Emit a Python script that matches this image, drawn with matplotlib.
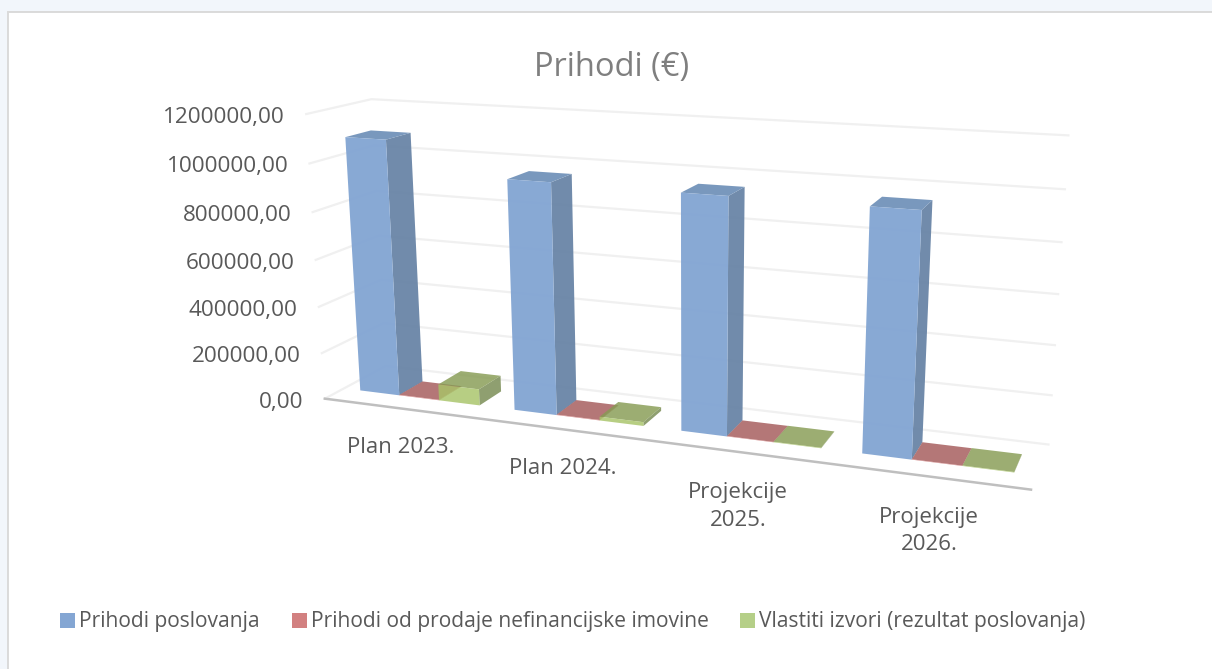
import numpy as np
import matplotlib
matplotlib.use("Agg")
import matplotlib.pyplot as plt
from matplotlib.patches import Polygon, Rectangle

categories = ["Plan 2023.", "Plan 2024.", "Projekcije\n2025.", "Projekcije\n2026."]
series_names = ["Prihodi poslovanja", "Prihodi od prodaje nefinancijske imovine",
                "Vlastiti izvori (rezultat poslovanja)"]
prihodi_poslovanja = [1090000, 962000, 957000, 955000]
prihodi_nefinancijske = [2000, 2000, 1500, 1500]
vlastiti_izvori = [70000, 16000, 2000, 2000]
ticks = [0, 200000, 400000, 600000, 800000, 1000000, 1200000]
tick_labels = ["0,00", "200000,00", "400000,00", "600000,00", "800000,00", "1000000,00", "1200000,00"]
title = "Prihodi (€)"

FONT = "Open Sans"
VMAX = 1200000.0
GAP = 0.11
BAR_W = 0.26
W0, W1 = 0.30, 0.70

# camera calibration: (category, value/VMAX, depth) -> pixel
anchors = [
    (0, 0, 0, 325, 399), (0, 1.2, 0, 306.7, 114), (0, 1, 0, 310, 163), (0, .8, 0, 312.7, 212),
    (0, 0, 1, 387, 365), (0, 1.2, 1, 370.7, 98.3), (0, .8, 1, 376, 191.7),
    (4, 0, 1, 1048.3, 445), (4, 1.2, 1, 1068.3, 135.7), (4, 1, 1, 1065, 190), (4, 0, 0, 1031, 490),
    (.11, 0, .3, 360, 391), (1.11, 0, .3, 513, 410), (2.11, 0, .3, 680.7, 430.7), (3.11, 0, .3, 861.7, 453),
    (3.89, 0, .3, 1015, 472.3), (3.89, 0, .7, 1022, 453.3), (1.37, 0, .7, 576.7, 401.7), (3.37, 0, .7, 923, 442),
]
rows = []
for u, v, w, x, y in anchors:
    p = [u, v, w, 1]
    rows.append(p + [0, 0, 0, 0] + [-x * c for c in p])
    rows.append([0, 0, 0, 0] + p + [-y * c for c in p])
P = np.linalg.svd(np.array(rows, float))[2][-1].reshape(3, 4)


def proj(u, value, w):
    h = P @ np.array([u, value / VMAX * 1.2, w, 1.0])
    return h[0] / h[2], h[1] / h[2]


fig = plt.figure(figsize=(12.12, 6.69), dpi=100, facecolor="#f2f6fb")
ax = fig.add_axes([0, 0, 1, 1])
ax.set_xlim(0, 1212)
ax.set_ylim(669, 0)
ax.axis("off")
ax.add_patch(Rectangle((8, 12), 1230, 700, fc="white", ec="#dadada", lw=1.4, zorder=0))

# gridlines on side and back walls
for t, lab in zip(ticks, tick_labels):
    a, b, c = proj(0, t, 0), proj(0, t, 1), proj(4, t, 1)
    ax.plot([a[0], b[0], c[0]], [a[1], b[1], c[1]], color="#f0f0f0", lw=1.6, zorder=1,
            solid_joinstyle="round")
    ax.text(a[0] - 21, a[1] + 3.5, lab, ha="right", va="center", fontsize=16.2, family=FONT, color="#595959")
# floor front edge
a, b = proj(0, 0, 0), proj(4, 0, 0)
ax.plot([a[0], b[0]], [a[1], b[1]], color="#bfbfbf", lw=1.8, zorder=1.5)

legend_colors = ["#84a6d3", "#d28080", "#b5cf88"]
styles = [
    ("#84a6d3", "#6c87a8", "#7595bb"),
    ("#d28080", "#b87070", "#b07070"),
    ("#a8c468", "#768a51", "#869b53"),
]
alphas = [0.97, 0.95, 0.82]
all_series = [prihodi_poslovanja, prihodi_nefinancijske, vlastiti_izvori]
z = 2.0
for k in range(4):
    for s, vals in enumerate(all_series):
        u0 = k + GAP + s * BAR_W
        u1 = u0 + BAR_W
        v = vals[k]
        front, side, top = styles[s]
        al = alphas[s]
        faces = [
            ([(u1, 0, W0), (u1, 0, W1), (u1, v, W1), (u1, v, W0)], side, al),
            ([(u0, v, W0), (u1, v, W0), (u1, v, W1), (u0, v, W1)], top, al),
            ([(u0, 0, W0), (u1, 0, W0), (u1, v, W0), (u0, v, W0)], front, al),
        ]
        for pts, col, fa in faces:
            ax.add_patch(Polygon([proj(*q) for q in pts], closed=True, fc=col, ec="none", alpha=fa, zorder=z))
            z += 0.01

for k, cat in enumerate(categories):
    x, y = proj(k + 0.5, 0, 0)
    ax.text(x, y + 39 if "\n" not in cat else y + 54.5, cat, ha="center", va="center", fontsize=16,
            family=FONT, color="#595959", linespacing=1.42)

ax.text(612, 67.5, title, ha="center", va="center", fontsize=23.5, family=FONT, color="#7f7f7f")

handles = [Rectangle((0, 0), 1, 1, fc=c, ec="none") for c in legend_colors]
ax.legend(handles, series_names, ncol=3, frameon=False, loc="center", bbox_to_anchor=(573 / 1212, 1 - 622 / 669),
          prop={"family": FONT, "size": 15.1}, labelcolor="#595959", handlelength=0.72, handleheight=0.72,
          handletextpad=0.2, columnspacing=1.5, borderpad=0)

fig.savefig("out.png", dpi=100, facecolor=fig.get_facecolor())
